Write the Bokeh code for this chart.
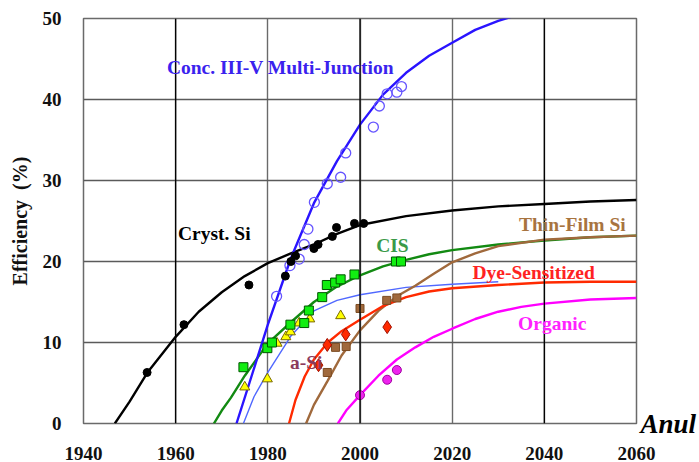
from bokeh.plotting import figure
from bokeh.models import Range1d, Span, Label, FixedTicker, LinearAxis
from bokeh.embed import file_html
from bokeh.resources import INLINE

# ---------------- data ----------------
x_ticks = [1940, 1960, 1980, 2000, 2020, 2040, 2060]
y_ticks = [0, 10, 20, 30, 40, 50]

# Crystalline Si
cryst_curve_year = [1946.8, 1950, 1954, 1960, 1965, 1970, 1975, 1980, 1985, 1990, 1995, 2000, 2010, 2020, 2030, 2040, 2050, 2060]
cryst_curve_eff = [0, 2.7, 6.4, 10.7, 13.8, 16.2, 18.2, 19.8, 21.0, 22.1, 23.4, 24.5, 25.6, 26.3, 26.8, 27.1, 27.4, 27.6]
cryst_pts_year = [1953.8, 1961.8, 1975.9, 1983.8, 1985.0, 1986.0, 1990.0, 1990.9, 1994.0, 1994.9, 1998.8, 2000.8]
cryst_pts_eff = [6.3, 12.2, 17.1, 18.2, 20.0, 20.7, 21.6, 22.1, 23.1, 24.2, 24.7, 24.7]

# Concentrator III-V multi-junction
conc_curve_year = [1973.2, 1976, 1980, 1985, 1990, 1995, 2000, 2005, 2010, 2015, 2020, 2025, 2030, 2035]
conc_curve_eff = [0, 5.0, 12.2, 20.4, 27.2, 32.4, 36.9, 40.6, 43.3, 45.4, 47.0, 48.6, 49.7, 50.6]
conc_pts_year = [1981.9, 1984.8, 1986.8, 1987.9, 1988.7, 1990.1, 1992.9, 1995.8, 1996.9, 2002.9, 2004.2, 2005.9, 2008.0, 2009.0]
conc_pts_eff = [15.7, 19.5, 20.3, 22.1, 24.0, 27.3, 29.6, 30.4, 33.4, 36.6, 39.2, 40.7, 40.9, 41.6]

# CIS
cis_curve_year = [1968.3, 1970, 1972, 1975, 1980, 1985, 1990, 1995, 2000, 2005, 2010, 2015, 2020, 2030, 2040, 2050, 2060]
cis_curve_eff = [0, 1.6, 3.2, 5.9, 9.9, 12.5, 15.0, 16.9, 18.3, 19.4, 20.2, 20.9, 21.4, 22.1, 22.6, 23.0, 23.2]
cis_pts_year = [1974.7, 1979.9, 1980.9, 1984.9, 1987.9, 1988.9, 1991.8, 1992.8, 1994.6, 1995.8, 1998.8, 2007.8, 2008.9]
cis_pts_eff = [6.95, 9.3, 10.0, 12.2, 12.4, 13.95, 15.6, 17.1, 17.4, 17.8, 18.4, 20.0, 20.0]

# a-Si
asi_curve_year = [1974.7, 1977, 1980, 1985, 1990, 1995, 2000, 2010, 2020, 2030]
asi_curve_eff = [0, 3.3, 6.3, 10.8, 13.9, 15.2, 15.9, 16.8, 17.2, 17.5]
asi_pts_year = [1975.0, 1979.9, 1982.0, 1983.9, 1984.9, 1986.8, 1989.1, 1995.8]
asi_pts_eff = [4.5, 5.5, 9.9, 10.7, 11.3, 12.4, 12.9, 13.3]

# Thin-film Si
tf_curve_year = [1988.3, 1990, 1993, 1996, 2000, 2004, 2008, 2012, 2016, 2020, 2025, 2030, 2040, 2050, 2060]
tf_curve_eff = [0, 2.3, 5.3, 8.4, 11.5, 13.9, 15.7, 17.0, 18.5, 19.9, 21.0, 21.9, 22.7, 23.0, 23.2]
tf_pts_year = [1992.9, 1994.7, 1997.0, 2000.0, 2005.8, 2008.0]
tf_pts_eff = [6.3, 9.4, 9.5, 14.2, 15.2, 15.5]

# Dye-sensitized
dye_curve_year = [1984.6, 1986, 1988, 1990, 1993, 1996, 2000, 2005, 2010, 2015, 2020, 2030, 2040, 2050, 2060]
dye_curve_eff = [0, 2.9, 5.8, 7.9, 10.0, 11.4, 12.8, 14.5, 15.6, 16.3, 16.7, 17.1, 17.4, 17.5, 17.5]
dye_pts_year = [1991.0, 1992.9, 1996.9, 2005.9]
dye_pts_eff = [7.2, 9.7, 11.0, 11.9]

# Organic
org_curve_year = [1995.2, 1997, 2000, 2004, 2008, 2012, 2016, 2020, 2025, 2030, 2035, 2040, 2050, 2060]
org_curve_eff = [0, 1.6, 3.5, 5.9, 7.9, 9.4, 10.7, 11.7, 12.9, 13.8, 14.4, 14.8, 15.3, 15.5]
org_pts_year = [2000.0, 2005.9, 2008.0]
org_pts_eff = [3.5, 5.4, 6.6]

x_title = "Anul"
y_title = "Efficiency\u00a0\u00a0(%)"

# ---------------- figure ----------------
SERIF = "Liberation Serif"

p = figure(width=699, height=462, x_range=Range1d(1940, 2060), y_range=Range1d(0, 50),
           output_backend="svg", toolbar_location=None,
           min_border_left=83, min_border_right=61, min_border_top=18, min_border_bottom=39)
p.background_fill_color = "white"
p.border_fill_color = "white"
p.outline_line_color = "#6a6a6a"
p.outline_line_width = 1.5

p.xaxis.ticker = FixedTicker(ticks=x_ticks)
p.yaxis.ticker = FixedTicker(ticks=y_ticks)
for ax in (p.xaxis, p.yaxis):
    ax.axis_line_color = None
    ax.major_tick_line_color = None
    ax.minor_tick_line_color = None
    ax.major_label_text_font = SERIF
    ax.major_label_text_font_style = "bold"
    ax.major_label_text_font_size = "19px"
    ax.major_label_text_color = "#111111"
p.xaxis.major_label_standoff = 17
p.yaxis.major_label_standoff = 16
p.yaxis.axis_label = y_title
p.yaxis.axis_label_text_font = SERIF
p.yaxis.axis_label_text_font_style = "bold"
p.yaxis.axis_label_text_font_size = "20px"
p.yaxis.axis_label_text_color = "#111111"
p.yaxis.axis_label_standoff = 9

# "Anul" placed at the bottom-right, level with the x axis
ax_r = LinearAxis(ticker=FixedTicker(ticks=[0]), major_label_overrides={0: x_title},
                  axis_line_color=None, major_tick_line_color=None, minor_tick_line_color=None,
                  major_tick_out=0, major_tick_in=0, minor_tick_out=0, minor_tick_in=0,
                  major_label_standoff=4, major_label_text_font=SERIF,
                  major_label_text_font_style="bold italic", major_label_text_font_size="27px",
                  major_label_text_color="black")
p.add_layout(ax_r, "right")

p.ygrid.grid_line_color = "#5a5a5a"
p.ygrid.grid_line_width = 1.4
p.xgrid.grid_line_color = "#6a6a6a"
p.xgrid.grid_line_width = 1.4
for yr in (1960, 2000, 2040):
    p.add_layout(Span(location=yr, dimension="height", line_color="black", line_width=1.3))

# curves
p.line(asi_curve_year, asi_curve_eff, line_color="#5068ff", line_width=1.4)
p.line(cryst_curve_year, cryst_curve_eff, line_color="black", line_width=2.4)
p.line(cis_curve_year, cis_curve_eff, line_color="#128a12", line_width=2.4)
p.line(tf_curve_year, tf_curve_eff, line_color="#a0693c", line_width=2.4)
p.line(dye_curve_year, dye_curve_eff, line_color="#ff2a00", line_width=2.4)
p.line(org_curve_year, org_curve_eff, line_color="#ff00ff", line_width=2.4)
p.line(conc_curve_year, conc_curve_eff, line_color="#2a14ff", line_width=2.4)

# points
p.scatter(conc_pts_year, conc_pts_eff, marker="circle", size=10, fill_color=None,
          line_color="#6655ff", line_width=1.3)
p.scatter(cryst_pts_year, cryst_pts_eff, marker="circle", size=8, fill_color="black",
          line_color="black")
p.scatter(asi_pts_year, asi_pts_eff, marker="triangle", size=10, fill_color="#ffff00",
          line_color="#7a6a00", line_width=1)
p.scatter(cis_pts_year, cis_pts_eff, marker="square", size=9, fill_color="#11ee11",
          line_color="#005500", line_width=1)
p.scatter(tf_pts_year, tf_pts_eff, marker="square", size=8, fill_color="#a0693c",
          line_color="#7a4a20", line_width=1)
p.scatter(dye_pts_year, dye_pts_eff, marker="diamond", size=13, fill_color="#ff2a00",
          line_color="#a01000", line_width=1)
p.scatter(org_pts_year, org_pts_eff, marker="circle", size=9, fill_color="#ee22ee",
          line_color="#a000a0", line_width=1)

# text labels
def add_label(x, y, text, color):
    p.add_layout(Label(x=x, y=y, text=text, text_color=color, text_font=SERIF,
                       text_font_style="bold", text_font_size="19.5px",
                       text_baseline="alphabetic", text_align="left"))

add_label(1958.1, 43.95, "Conc. III-V Multi-Junction", "#3a22ee")
add_label(1960.5, 23.5, "Cryst. Si", "black")
add_label(2003.5, 21.98, "CIS", "#3a9a48")
add_label(2034.5, 24.57, "Thin-Film Si", "#a8743f")
add_label(2024.4, 18.6, "Dye-Sensitized", "#ff2222")
add_label(2034.3, 12.4, "Organic", "#ff22ff")
add_label(1984.8, 7.57, "a-Si", "#8c3a5c")

open("out.html", "w").write(file_html(p, INLINE))
